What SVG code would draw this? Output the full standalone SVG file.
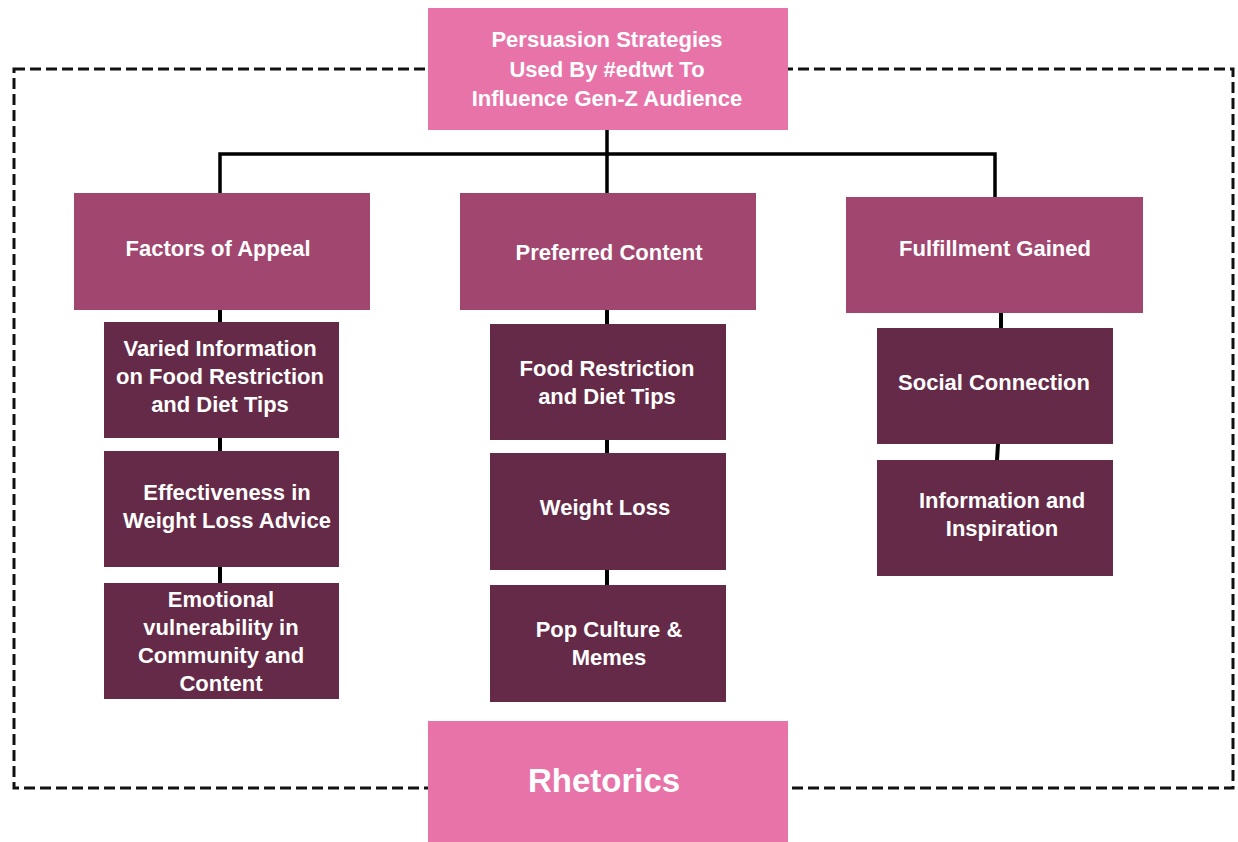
<svg xmlns="http://www.w3.org/2000/svg" width="1238" height="842" viewBox="0 0 1238 842">
<style>
.bg{fill:#ffffff}
.pink{fill:#E873A9}
.mid{fill:#A0466F}
.dark{fill:#642A47}
.t{font-family:"Liberation Sans",Arial,sans-serif;font-weight:bold;font-size:22px;fill:#ffffff;text-anchor:middle}
.big{font-size:33px}
.frame{fill:none;stroke:#111;stroke-width:3;stroke-dasharray:11 5}
.c{fill:none;stroke:#000;stroke-width:3.5}
.c4{fill:none;stroke:#000;stroke-width:4}
</style>
<rect class="bg" x="0" y="0" width="1238" height="842"/>
<rect class="frame" x="14" y="69" width="1219" height="719"/>
<g id="connectors">
<polyline class="c" points="607,130 607,154"/>
<polyline class="c" points="220,193 220,154 995,154 995,197"/>
<polyline class="c" points="607,154 607,193"/>
<line class="c4" x1="220" y1="310" x2="220" y2="322"/>
<line class="c4" x1="220" y1="438" x2="220" y2="451"/>
<line class="c4" x1="220" y1="567" x2="220" y2="583"/>
<line class="c4" x1="607" y1="310" x2="607" y2="324"/>
<line class="c4" x1="607" y1="440" x2="607" y2="453"/>
<line class="c4" x1="607" y1="570" x2="607" y2="585"/>
<line class="c4" x1="1001" y1="313" x2="1001" y2="328"/>
<line class="c4" x1="998" y1="444" x2="997" y2="460"/>
</g>
<g id="root">
<rect class="pink" x="428" y="8" width="360" height="122"/>
<text class="t" x="607" y="47">Persuasion Strategies</text>
<text class="t" x="607" y="76.5">Used By #edtwt To</text>
<text class="t" x="607" y="106">Influence Gen-Z Audience</text>
</g>
<g id="factors">
<rect class="mid" x="74" y="193" width="296" height="117"/>
<text class="t" x="218" y="256">Factors of Appeal</text>
</g>
<g id="preferred">
<rect class="mid" x="460" y="193" width="296" height="117"/>
<text class="t" x="609" y="260">Preferred Content</text>
</g>
<g id="fulfillment">
<rect class="mid" x="846" y="197" width="297" height="116"/>
<text class="t" x="995" y="256">Fulfillment Gained</text>
</g>
<g id="varied">
<rect class="dark" x="104" y="322" width="235" height="116"/>
<text class="t" x="220" y="356">Varied Information</text>
<text class="t" x="220" y="384">on Food Restriction</text>
<text class="t" x="220" y="412">and Diet Tips</text>
</g>
<g id="effectiveness">
<rect class="dark" x="104" y="451" width="235" height="116"/>
<text class="t" x="227" y="500">Effectiveness in</text>
<text class="t" x="227" y="528">Weight Loss Advice</text>
</g>
<g id="emotional">
<rect class="dark" x="104" y="583" width="235" height="116"/>
<text class="t" x="221" y="607">Emotional</text>
<text class="t" x="221" y="635">vulnerability in</text>
<text class="t" x="221" y="663">Community and</text>
<text class="t" x="221" y="691">Content</text>
</g>
<g id="food">
<rect class="dark" x="490" y="324" width="236" height="116"/>
<text class="t" x="607" y="376">Food Restriction</text>
<text class="t" x="607" y="404">and Diet Tips</text>
</g>
<g id="weightloss">
<rect class="dark" x="490" y="453" width="236" height="117"/>
<text class="t" x="605" y="515">Weight Loss</text>
</g>
<g id="pop">
<rect class="dark" x="490" y="585" width="236" height="117"/>
<text class="t" x="609" y="637">Pop Culture &amp;</text>
<text class="t" x="609" y="665">Memes</text>
</g>
<g id="social">
<rect class="dark" x="877" y="328" width="236" height="116"/>
<text class="t" x="994" y="390">Social Connection</text>
</g>
<g id="information">
<rect class="dark" x="877" y="460" width="236" height="116"/>
<text class="t" x="1002" y="508">Information and</text>
<text class="t" x="1002" y="536">Inspiration</text>
</g>
<g id="rhetorics">
<rect class="pink" x="428" y="721" width="360" height="121"/>
<text class="t big" x="604" y="792">Rhetorics</text>
</g>
</svg>
